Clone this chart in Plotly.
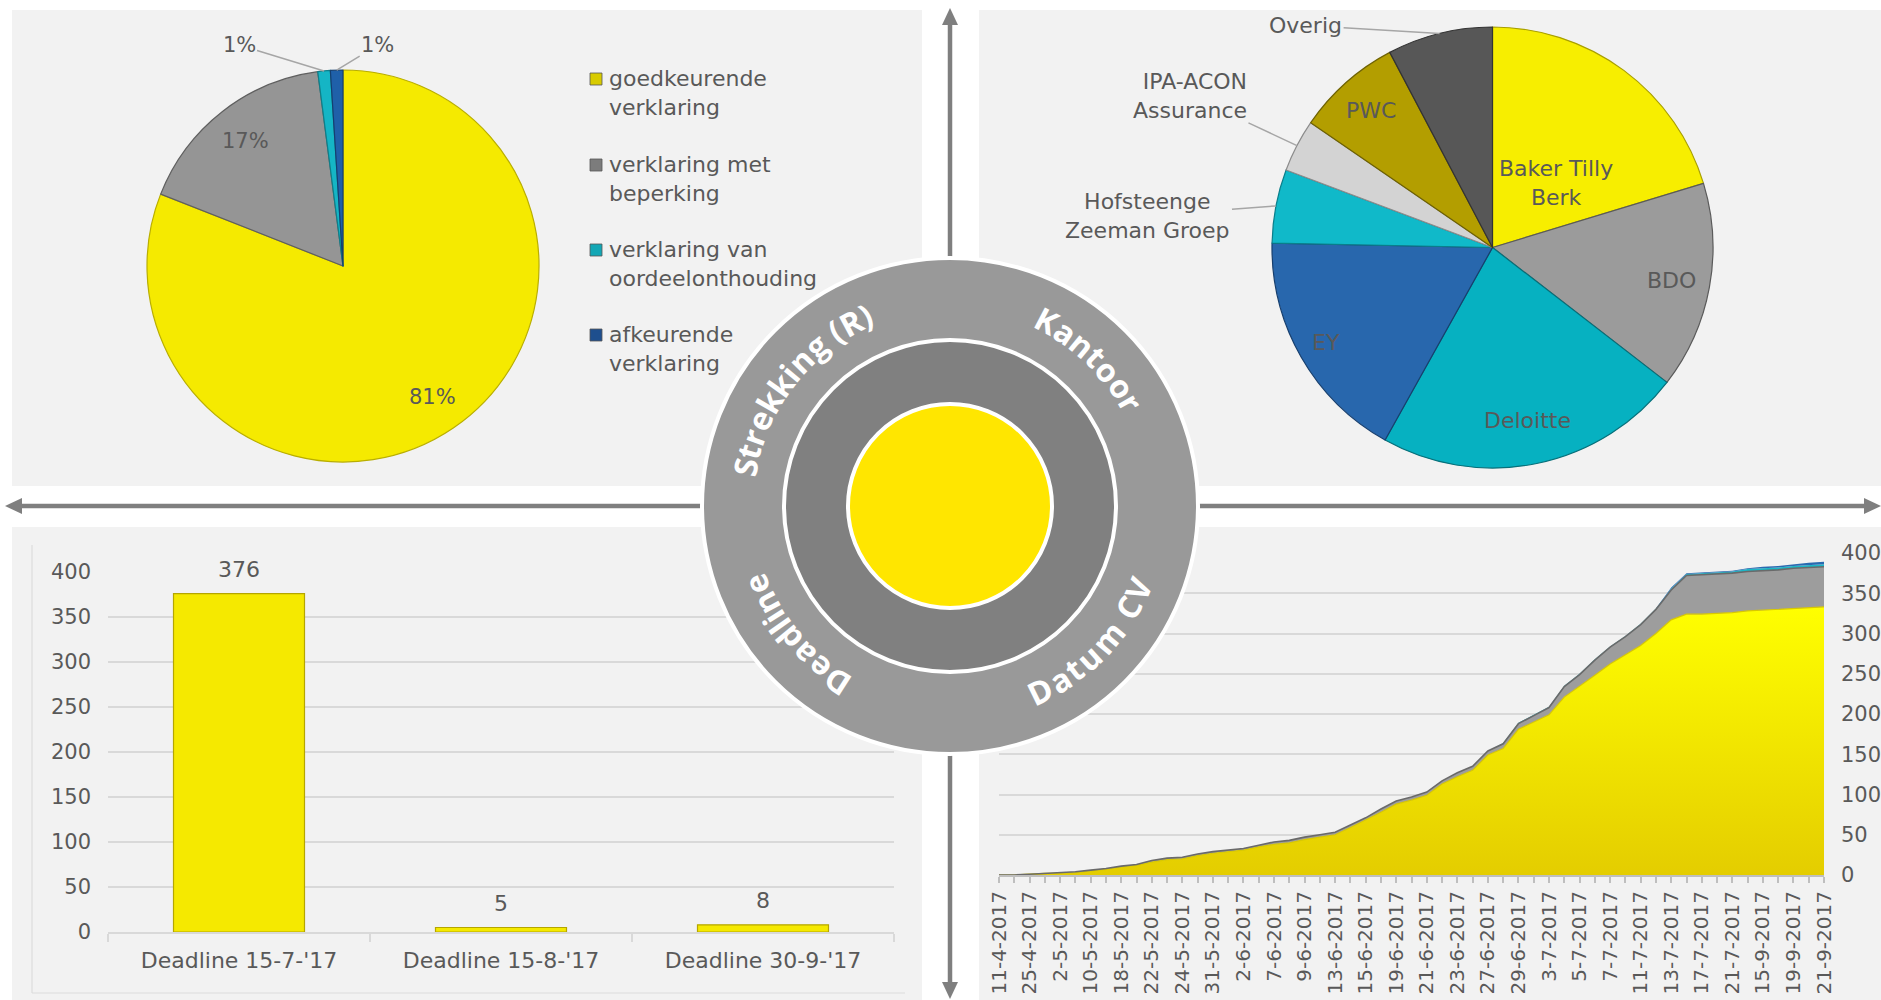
import math
import plotly.graph_objects as go

W, H = 1881, 1000

# ---------------- data ----------------
opinion_labels = ["goedkeurende verklaring", "verklaring met beperking",
                  "verklaring van oordeelonthouding", "afkeurende verklaring"]
opinion_legend = ["goedkeurende<br>verklaring", "verklaring met<br>beperking",
                  "verklaring van<br>oordeelonthouding", "afkeurende<br>verklaring"]
opinion_counts = [315, 66, 4, 4]

office_labels = ["Baker Tilly Berk", "BDO", "Deloitte", "EY", "Hofsteenge Zeeman Groep",
                 "IPA-ACON Assurance", "PWC", "Overig"]
office_display = ["Baker Tilly<br>Berk", "BDO", "Deloitte", "EY", "Hofsteenge<br>Zeeman Groep",
                  "IPA-ACON<br>Assurance", "PWC", "Overig"]
office_counts = [79, 59, 88, 67, 21, 15, 30, 30]

deadline_labels = ["Deadline 15-7-'17", "Deadline 15-8-'17", "Deadline 30-9-'17"]
deadline_counts = [376, 5, 8]

date_tick_labels = ["11-4-2017", "25-4-2017", "2-5-2017", "10-5-2017", "18-5-2017", "22-5-2017",
                    "24-5-2017", "31-5-2017", "2-6-2017", "7-6-2017", "9-6-2017", "13-6-2017",
                    "15-6-2017", "19-6-2017", "21-6-2017", "23-6-2017", "27-6-2017", "29-6-2017",
                    "3-7-2017", "5-7-2017", "7-7-2017", "11-7-2017", "13-7-2017", "17-7-2017",
                    "21-7-2017", "15-9-2017", "19-9-2017", "21-9-2017"]

cum_goedkeurend = [0, 0, 1, 2, 2, 3, 5, 7, 10, 12, 16, 19, 20, 24, 27, 29, 31, 35, 38, 40,
                   44, 47, 50, 59, 68, 78, 88, 93, 99, 113, 122, 130, 149, 157, 181, 190, 199, 221,
                   234, 248, 262, 273, 285, 300, 317, 324, 324, 325, 326, 328, 329, 330, 331, 332, 333]
cum_beperking = [0, 0, 0, 0, 1, 1, 1, 1, 1, 1, 2, 2, 2, 2, 2, 2, 2, 2, 3, 3, 3, 3, 3, 3, 3,
                 4, 4, 4, 4, 4, 5, 5, 5, 6, 7, 8, 9, 13, 15, 19, 21, 23, 26, 30, 37, 48,
                 49, 49, 49, 49, 49, 49, 50, 50, 50]
cum_oordeelonthouding = [0] * 33 + [1] * 11 + [2] * 5 + [3] * 6
cum_afkeurend = [0] * 44 + [1] * 6 + [2] * 3 + [3] * 2

# ---------------- style ----------------
TXT = "#595959"
FONT = "DejaVu Sans"
GRID = "#d9d9d9"


def px(x):
    return x / W


def py(y):
    return 1 - y / H


def slice_angles(vals):
    tot = float(sum(vals))
    out, c = [], 0.0
    for v in vals:
        s = c / tot * 360
        c += v
        e = c / tot * 360
        out.append((s, e, (s + e) / 2))
    return out


def pie_pt(cx, cy, r, theta, f):
    t = math.radians(theta)
    return cx + f * r * math.sin(t), cy - f * r * math.cos(t)


fig = go.Figure()
shapes = []
annos = []

# ---------------- panels ----------------
for (x0, y0, x1, y1) in [(12, 10, 922, 486), (979, 10, 1881, 486),
                         (12, 527, 922, 1000), (979, 527, 1881, 1000)]:
    shapes.append(dict(type="rect", xref="paper", yref="paper", x0=px(x0), x1=px(x1),
                       y0=py(y1), y1=py(y0), fillcolor="#f2f2f2", line=dict(width=0), layer="below"))
# faint chart border bottom-left
shapes.append(dict(type="line", xref="paper", yref="paper", x0=px(32), x1=px(32), y0=py(545), y1=py(993),
                   line=dict(color="#dcdcdc", width=1.2), layer="below"))
shapes.append(dict(type="line", xref="paper", yref="paper", x0=px(32), x1=px(905), y0=py(993), y1=py(993),
                   line=dict(color="#dcdcdc", width=1.2), layer="below"))

# ---------------- arrows ----------------
AC = "#7f7f7f"
shapes.append(dict(type="line", xref="paper", yref="paper", x0=px(950), x1=px(950), y0=py(22), y1=py(986),
                   line=dict(color=AC, width=4.5), layer="below"))
shapes.append(dict(type="line", xref="paper", yref="paper", x0=px(20), x1=px(1866), y0=py(506), y1=py(506),
                   line=dict(color=AC, width=4.5), layer="below"))


def tri(p1, p2, p3):
    return "M {} {} L {} {} L {} {} Z".format(px(p1[0]), py(p1[1]), px(p2[0]), py(p2[1]), px(p3[0]), py(p3[1]))


for path in [tri((950, 8), (942, 25), (958, 25)), tri((950, 999), (942, 982), (958, 982)),
             tri((5, 506), (22, 498), (22, 514)), tri((1881, 506), (1864, 498), (1864, 514))]:
    shapes.append(dict(type="path", xref="paper", yref="paper", path=path, fillcolor=AC,
                       line=dict(width=0), layer="below"))

# ---------------- pie 1 (opinions) ----------------
C1X, C1Y, R1 = 343, 266, 196
op_colors = ["#F5EA00", "#959595", "#15B5C5", "#1F60A9"]
op_lines = ["#B9AE00", "#5f5f5f", "#0E7F8A", "#153F70"]
fig.add_trace(go.Pie(labels=opinion_labels, values=opinion_counts, sort=False, direction="clockwise",
                     rotation=0, textinfo="none", showlegend=False,
                     marker=dict(colors=op_colors, line=dict(color=op_lines, width=1.2)),
                     domain=dict(x=[px(C1X - R1), px(C1X + R1)], y=[py(C1Y + R1), py(C1Y - R1)])))

tot1 = sum(opinion_counts)
ang1 = slice_angles(opinion_counts)
small_offsets = {2: (-85, -26), 3: (41, -25)}
for i, (s, e, m) in enumerate(ang1):
    pct = "{:d}%".format(round(100 * opinion_counts[i] / tot1))
    if i in small_offsets:
        ex, ey = pie_pt(C1X, C1Y, R1, m, 1.0)
        ax, ay = small_offsets[i]
        annos.append(dict(x=px(ex), y=py(ey), xref="paper", yref="paper", text=pct, showarrow=True,
                          arrowhead=0, arrowwidth=1.5, arrowcolor="#a6a6a6", ax=ax, ay=ay, standoff=0,
                          xanchor="center", yanchor="middle",
                          font=dict(family=FONT, size=21, color=TXT)))
    else:
        lx, ly = pie_pt(C1X, C1Y, R1, m, 0.81)
        annos.append(dict(x=px(lx), y=py(ly), xref="paper", yref="paper", text=pct, showarrow=False,
                          xanchor="center", yanchor="middle",
                          font=dict(family=FONT, size=21, color=TXT)))

# manual legend
leg_sq = ["#D8CB00", "#7c7c7c", "#13A7B5", "#1E4F8E"]
leg_y = [79, 165, 250, 335]
for i, lab in enumerate(opinion_legend):
    yc = leg_y[i]
    shapes.append(dict(type="rect", xref="paper", yref="paper", x0=px(590), x1=px(602),
                       y0=py(yc + 6), y1=py(yc - 6), fillcolor=leg_sq[i], line=dict(color="#555555", width=0.8)))
    annos.append(dict(x=px(607), y=py(yc + 14), xref="paper", yref="paper", text=lab, showarrow=False,
                      xanchor="left", yanchor="middle", align="left",
                      font=dict(family=FONT, size=22, color=TXT)))

# ---------------- pie 2 (offices) ----------------
C2X, C2Y, R2 = 1492.5, 247.5, 220.5
of_colors = ["#F7EE00", "#9B9B9B", "#06B1C1", "#2867AD", "#10B9C9", "#D3D3D3", "#B39E00", "#575757"]
of_lines = ["#A89F00", "#5a5a5a", "#07707A", "#173F6E", "#0A7F8B", "#8c8c8c", "#6f6200", "#333333"]
fig.add_trace(go.Pie(labels=office_labels, values=office_counts, sort=False, direction="clockwise",
                     rotation=0, textinfo="none", showlegend=False,
                     marker=dict(colors=of_colors, line=dict(color=of_lines, width=1.2)),
                     domain=dict(x=[px(C2X - R2), px(C2X + R2)], y=[py(C2Y + R2), py(C2Y - R2)])))

ang2 = slice_angles(office_counts)
inside_place = {0: (0.41, 8), 1: (0.825, 0), 2: (0.80, 0), 3: (0.87, 0), 6: (0.83, 0)}
outside_place = {4: (-128, 10), 5: (-107, -50), 7: (-134, -8)}
for i, (s, e, m) in enumerate(ang2):
    if i in inside_place:
        f, dth = inside_place[i]
        lx, ly = pie_pt(C2X, C2Y, R2, m + dth, f)
        annos.append(dict(x=px(lx), y=py(ly), xref="paper", yref="paper", text=office_display[i],
                          showarrow=False, xanchor="center", yanchor="middle",
                          font=dict(family=FONT, size=22, color=TXT)))
    else:
        ex, ey = pie_pt(C2X, C2Y, R2, m, 1.0)
        ax, ay = outside_place[i]
        annos.append(dict(x=px(ex), y=py(ey), xref="paper", yref="paper", text=office_display[i],
                          showarrow=True, arrowhead=0, arrowwidth=1.5, arrowcolor="#a6a6a6",
                          ax=ax, ay=ay, standoff=0, align="right" if i == 5 else "center",
                          xanchor="center", yanchor="middle",
                          font=dict(family=FONT, size=22, color=TXT)))

# ---------------- bar chart ----------------
fig.add_trace(go.Bar(x=deadline_labels, y=deadline_counts, width=0.5, xaxis="x", yaxis="y",
                     marker=dict(color="#F5E900", line=dict(color="#B5A600", width=1.2)),
                     showlegend=False))
for lab, v in zip(deadline_labels, deadline_counts):
    annos.append(dict(x=lab, y=v, xref="x", yref="y", text=str(v), showarrow=False, yshift=24,
                      xanchor="center", yanchor="middle",
                      font=dict(family=FONT, size=22, color=TXT)))

# ---------------- cumulative area chart ----------------
idx = list(range(len(cum_goedkeurend)))
fig.add_trace(go.Scatter(x=idx, y=cum_goedkeurend, xaxis="x2", yaxis="y2", stackgroup="one",
                         mode="lines", line=dict(color="#D8C800", width=1.2),
                         fillgradient=dict(type="vertical", colorscale=[[0, "#E4CD00"], [1, "#FFFF00"]]),
                         name="goedkeurende verklaring", showlegend=False))
fig.add_trace(go.Scatter(x=idx, y=cum_beperking, xaxis="x2", yaxis="y2", stackgroup="one",
                         mode="lines", line=dict(color="#6a6a6a", width=1.6), fillcolor="#9d9d9d",
                         name="verklaring met beperking", showlegend=False))
fig.add_trace(go.Scatter(x=idx, y=cum_oordeelonthouding, xaxis="x2", yaxis="y2", stackgroup="one",
                         mode="lines", line=dict(width=0), fillcolor="#1BB7C7",
                         name="verklaring van oordeelonthouding", showlegend=False))
fig.add_trace(go.Scatter(x=idx, y=cum_afkeurend, xaxis="x2", yaxis="y2", stackgroup="one",
                         mode="lines", line=dict(width=0), fillcolor="#2A6AB0",
                         name="afkeurende verklaring", showlegend=False))

# ---------------- centre target ----------------
CX, CY = 950, 506
for r, fill, lw in [(248, "#999999", 4), (166, "#808080", 4), (102, "#FFE600", 4)]:
    shapes.append(dict(type="circle", xref="paper", yref="paper", x0=px(CX - r), x1=px(CX + r),
                       y0=py(CY + r), y1=py(CY - r), fillcolor=fill, line=dict(color="white", width=lw),
                       layer="above"))

CW = {'S': 0.55, 't': 0.43, 'r': 0.45, 'e': 0.6, 'k': 0.6, 'i': 0.29, 'n': 0.65, 'g': 0.6, ' ': 0.26,
      '(': 0.33, 'R': 0.67, ')': 0.33, 'K': 0.65, 'a': 0.6, 'o': 0.62, 'D': 0.73, 'u': 0.65, 'm': 0.97,
      'C': 0.62, 'V': 0.64, 'l': 0.29, 'd': 0.65}
RING_FONT = 32
SPACING = 1.07


def arc_text(text, center_deg, r, outward):
    widths = [CW.get(c, 0.6) * RING_FONT * SPACING for c in text]
    total = sum(widths)
    span = math.degrees(total / r)
    pos = 0.0
    for c, w in zip(text, widths):
        mid = pos + w / 2
        pos += w
        if c == " ":
            continue
        if outward:  # reading clockwise, tops pointing outwards
            th = center_deg + span / 2 - math.degrees(mid / r)
            rot = 90 - th
        else:  # reading counter-clockwise, tops pointing to the centre
            th = center_deg - span / 2 + math.degrees(mid / r)
            rot = -90 - th
        x = CX + r * math.cos(math.radians(th))
        y = CY - r * math.sin(math.radians(th))
        annos.append(dict(x=px(x), y=py(y), xref="paper", yref="paper", text=c, showarrow=False,
                          textangle=rot, xanchor="center", yanchor="middle",
                          font=dict(family="Open Sans", size=RING_FONT, color="white", weight=700)))


arc_text("Strekking (R)", 142, 209, True)
arc_text("Kantoor", 46.5, 209, True)
arc_text("Deadline", -140, 209, True)
arc_text("Datum CV", -44, 205, False)

# ---------------- layout ----------------
fig.update_layout(
    width=W, height=H, margin=dict(l=0, r=0, t=0, b=0, autoexpand=False),
    paper_bgcolor="white", plot_bgcolor="rgba(0,0,0,0)",
    font=dict(family=FONT, color=TXT),
    showlegend=False,
    xaxis=dict(domain=[px(108), px(894)], anchor="y", type="category", range=[-0.5, 2.5],
               showgrid=False, showline=True, linecolor=GRID, linewidth=1.5, ticks="outside",
               tickson="boundaries", ticklen=8, tickcolor=GRID, tickwidth=1.5, automargin=False,
               tickfont=dict(family=FONT, size=22, color=TXT), ticklabelstandoff=8, fixedrange=True),
    yaxis=dict(domain=[py(932), py(572)], anchor="x", range=[0, 400], dtick=50, showgrid=True,
               gridcolor=GRID, gridwidth=1.5, zeroline=False, showline=False, automargin=False,
               tickfont=dict(family=FONT, size=21, color=TXT), ticklabelstandoff=16, fixedrange=True),
    xaxis2=dict(domain=[px(999), px(1824)], anchor="y2", range=[0, len(idx) - 1],
                tickmode="array", tickvals=list(range(0, len(idx), 2)), ticktext=date_tick_labels,
                tickangle=-90, ticks="outside", ticklen=6, tickcolor="#bfbfbf", tickwidth=1.5,
                minor=dict(tickmode="linear", tick0=0, dtick=1, ticks="outside", ticklen=6,
                           tickcolor="#bfbfbf", tickwidth=1.5, showgrid=False),
                showline=True, linecolor="#bfbfbf", linewidth=2, showgrid=False, zeroline=False,
                automargin=False,
                tickfont=dict(family=FONT, size=20, color=TXT), fixedrange=True),
    yaxis2=dict(domain=[py(875), py(553)], anchor="x2", side="right", range=[0, 400], dtick=50,
                showgrid=True, gridcolor=GRID, gridwidth=1.5, zeroline=False, showline=False,
                automargin=False,
                tickfont=dict(family=FONT, size=21, color=TXT), ticklabelstandoff=16, fixedrange=True),
    shapes=shapes,
    annotations=annos,
)

fig.write_html("out.html", config={"displayModeBar": False},
               post_script="document.body.style.margin='0';document.body.style.overflow='hidden';")
